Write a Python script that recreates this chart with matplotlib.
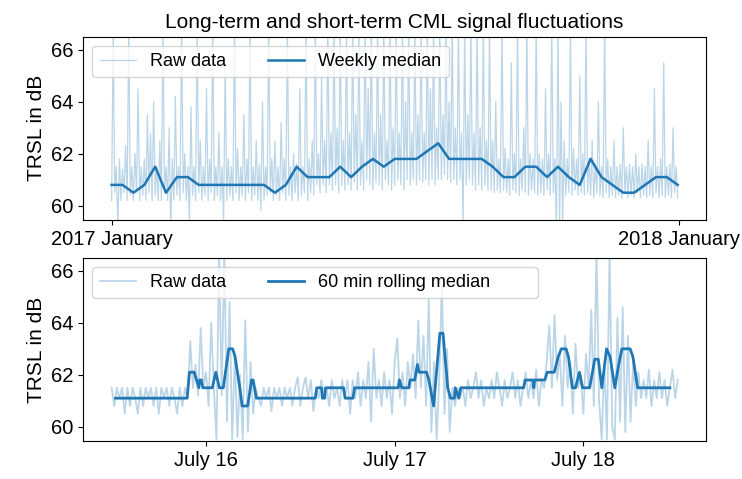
import matplotlib
matplotlib.use('Agg')
import matplotlib.pyplot as plt
import matplotlib.dates as mdates
import pandas as pd

plt.rcParams['font.family'] = ['Liberation Sans', 'DejaVu Sans']

# --- one year of raw TRSL, daily readings (dB), 2017 ---
raw_jan = [60.2, 66.8, 60.5, 61.5, 59.2, 61.8, 60.2, 61.4, 60.5, 62.3, 60.2, 67.0, 60.4, 61.5, 60.2, 62.0,
           60.5, 64.5, 60.2, 61.5, 60.4, 61.8, 60.2, 63.5, 60.5, 62.8, 60.2, 64.0, 60.4, 61.5, 60.2]
raw_feb = [62.5, 60.2, 67.0, 60.5, 61.5, 60.2, 63.0, 59.0, 61.8, 60.2, 64.2, 60.4, 61.5, 60.2, 67.0, 60.5,
           62.0, 60.2, 61.5, 59.3, 63.8, 60.4, 61.5, 60.2, 67.0, 60.5, 62.5, 60.2]
raw_mar = [61.5, 60.4, 64.5, 60.2, 61.8, 60.5, 67.0, 60.2, 61.5, 60.4, 62.8, 60.2, 61.5, 59.4, 65.5, 60.2,
           61.8, 60.4, 61.5, 60.2, 67.0, 60.5, 62.2, 60.2, 61.5, 60.4, 63.5, 60.2, 61.8, 60.5, 67.0]
raw_apr = [60.2, 61.5, 60.4, 62.5, 60.2, 61.6, 59.8, 64.0, 60.2, 61.5, 60.4, 67.0, 60.5, 61.8, 60.2, 62.5,
           60.4, 61.5, 60.2, 63.2, 60.5, 61.8, 60.2, 67.0, 60.4, 61.5, 60.2, 62.0, 60.5, 61.6]
raw_may = [60.2, 64.5, 60.4, 61.5, 60.5, 67.0, 60.2, 61.8, 60.5, 62.5, 60.4, 67.0, 60.8, 62.0, 60.5, 65.0,
           60.8, 62.5, 60.5, 67.0, 60.8, 62.8, 60.6, 67.0, 60.8, 63.0, 60.5, 67.0, 60.8, 62.5, 60.6]
raw_jun = [67.0, 60.8, 62.8, 60.6, 67.0, 60.9, 63.5, 60.6, 67.0, 60.8, 62.5, 60.6, 67.0, 61.0, 64.5, 60.8,
           67.0, 60.6, 62.8, 60.9, 67.0, 60.8, 63.5, 60.6, 67.0, 61.0, 62.5, 60.8, 67.0, 60.6]
raw_jul = [63.0, 60.8, 67.0, 61.0, 62.8, 60.8, 67.0, 60.6, 64.0, 61.0, 67.0, 60.8, 62.8, 61.0, 67.0, 60.8,
           63.5, 61.0, 67.0, 60.9, 62.8, 61.0, 67.0, 60.8, 64.5, 61.0, 67.0, 60.8, 63.0, 61.0, 67.0]
raw_aug = [61.0, 63.5, 61.2, 67.0, 61.0, 64.0, 60.9, 67.0, 61.0, 63.0, 60.8, 67.0, 61.0, 62.8, 59.2, 67.0,
           60.8, 63.5, 61.0, 67.0, 60.8, 62.8, 60.6, 67.0, 60.8, 63.0, 60.6, 67.0, 60.8, 62.5, 60.6]
raw_sep = [67.0, 60.6, 62.5, 60.5, 64.0, 60.6, 61.8, 60.5, 67.0, 60.6, 62.2, 60.5, 61.8, 60.4, 65.5, 60.6,
           62.0, 60.5, 67.0, 60.4, 61.8, 60.6, 63.0, 60.5, 67.0, 60.4, 62.0, 60.6, 61.8, 60.5]
raw_oct = [67.0, 60.4, 62.0, 60.5, 61.8, 60.4, 64.5, 60.6, 62.0, 60.4, 67.0, 60.5, 61.8, 59.0, 67.0, 59.0,
           64.0, 59.3, 62.5, 60.4, 61.8, 60.5, 67.0, 60.4, 62.2, 60.6, 61.8, 60.4, 65.0, 60.5, 62.0]
raw_nov = [60.4, 67.0, 60.5, 61.8, 60.4, 62.5, 60.3, 61.6, 60.5, 64.0, 60.4, 61.5, 60.3, 67.0, 60.5, 61.8,
           60.3, 61.5, 60.4, 62.5, 60.3, 61.5, 60.4, 61.6, 60.3, 63.0, 60.5, 61.5, 60.3, 61.6]
raw_dec = [60.4, 61.5, 60.3, 62.0, 60.5, 61.5, 60.3, 61.6, 60.4, 61.5, 60.3, 62.5, 60.4, 61.5, 60.3, 64.5,
           60.5, 61.5, 60.3, 61.8, 60.4, 65.5, 60.3, 61.5, 60.4, 61.6, 60.3, 63.0, 60.5, 61.5, 60.3]
raw_year = (raw_jan + raw_feb + raw_mar + raw_apr + raw_may + raw_jun +
            raw_jul + raw_aug + raw_sep + raw_oct + raw_nov + raw_dec)
raw_year_dates = pd.date_range('2017-01-01', periods=len(raw_year), freq='D')

weekly_median = [60.8, 60.8, 60.5, 60.8, 61.5, 60.5, 61.1, 61.1, 60.8, 60.8, 60.8, 60.8, 60.8, 60.8, 60.8,
                 60.5, 60.8, 61.5, 61.1, 61.1, 61.1, 61.5, 61.1, 61.5, 61.8, 61.5, 61.8, 61.8, 61.8, 62.1,
                 62.4, 61.8, 61.8, 61.8, 61.8, 61.5, 61.1, 61.1, 61.5, 61.5, 61.1, 61.5, 61.1, 60.8, 61.8,
                 61.1, 60.8, 60.5, 60.5, 60.8, 61.1, 61.1, 60.8]
weekly_dates = pd.date_range('2017-01-01', periods=len(weekly_median), freq='7D')

# --- three days of raw TRSL, 20 min readings from 15 July 12:00 ---
raw_july = [61.5, 60.8, 61.5, 61.1, 61.5, 60.5, 61.5, 60.8, 61.5, 61.1, 60.5, 61.5, 60.8, 61.5, 61.1,
            61.5, 60.8, 61.5, 60.5, 61.5, 61.1, 61.5, 60.8, 61.5, 61.1, 60.5, 61.5, 60.8, 61.5, 61.1,
            63.3, 61.5, 62.4, 61.2, 63.8, 61.5, 62.1, 60.8, 64.0, 61.5, 59.5, 66.8, 61.2, 66.8, 60.2,
            64.8, 59.5, 62.8, 59.6, 62.0, 59.5, 64.1, 59.8, 62.5, 60.5,
            61.5, 61.1, 60.8, 61.5, 61.1, 61.5, 60.6, 61.5, 61.1, 61.5, 60.8, 61.5, 61.1, 61.5, 60.8,
            61.5, 61.9, 60.8, 61.5, 61.9, 61.1, 61.8, 60.6, 61.5,
            61.1, 61.8, 61.1, 61.5, 60.8, 61.8, 61.1, 61.5, 60.8, 61.8, 61.1, 61.8, 60.5, 61.8, 61.1,
            62.1, 60.8, 61.8, 61.1, 62.5, 60.2, 63.0, 61.1, 61.8, 60.8, 62.1, 61.1, 61.8, 60.5, 62.5,
            63.4, 61.1, 62.1, 60.8, 62.5,
            61.5, 62.8, 61.1, 64.1, 61.5, 63.5, 60.8, 64.9, 59.8, 62.5, 59.5, 61.8, 65.5, 60.5, 63.0,
            59.8, 61.5, 60.8, 61.5,
            61.1, 61.5, 60.8, 61.8, 61.1, 61.5, 62.1, 61.1, 61.8, 60.8, 61.5, 61.1, 61.8, 61.1, 62.1,
            61.5, 60.8, 61.8, 61.1, 61.5, 62.1, 61.1, 61.8, 60.8, 61.5, 62.1, 61.1, 61.8, 61.1, 62.2,
            60.8, 61.8, 61.5,
            62.5, 63.9, 61.5, 64.3, 61.8, 62.8, 60.8, 63.5, 61.5, 62.5, 60.5, 63.2, 61.5, 62.0, 60.5,
            62.8, 61.5, 64.5, 60.8, 66.8, 61.0, 59.5, 62.5, 59.5, 66.8, 60.0, 59.5, 64.2, 60.2, 64.6,
            59.8, 63.5, 60.2, 62.5, 60.8, 62.1,
            61.1, 61.8, 61.1, 62.2, 60.8, 61.8, 61.1, 62.1, 61.1, 61.8, 60.8, 61.5, 62.2, 61.1, 61.8]
raw_july_times = pd.date_range('2017-07-15 12:00', periods=len(raw_july), freq='20min')

# 60 min rolling median, hours after 15 July 12:00
median_hours = [0.5, 9.6, 9.9, 10.5, 10.8, 11.1, 11.2, 11.4, 11.6, 12.8, 13.25, 13.7, 14.2, 14.9, 15.4,
                15.7, 16.3, 16.6, 17.3, 17.8, 18.0, 18.4, 25.9, 26.1, 26.7, 26.8, 27.1, 27.2, 29.5,
                29.7, 30.7, 30.9, 36.45, 36.6, 36.9, 37.8, 37.95, 38.55, 38.9, 39.1, 40.05, 40.35,
                40.95, 41.75, 42.15, 42.75, 43.1, 43.6, 43.7, 44.15, 44.4, 52.4, 52.6, 53.6, 53.7,
                53.8, 55.1, 55.4, 56.3, 56.8, 57.2, 57.8, 58.1, 58.6, 59.0, 59.5, 59.9, 60.8, 61.45,
                61.9, 62.35, 62.95, 63.4, 64.0, 64.5, 64.9, 65.95, 66.3, 66.9, 71.0]
median_values = [61.1, 61.1, 62.1, 62.1, 61.8, 61.5, 61.8, 61.8, 61.5, 61.5, 62.1, 61.5, 61.5, 63.0, 63.0,
                 62.7, 61.5, 60.8, 60.8, 61.8, 61.8, 61.1, 61.1, 61.5, 61.5, 61.1, 61.1, 61.5, 61.5,
                 61.1, 61.1, 61.5, 61.5, 61.8, 61.5, 61.5, 61.8, 61.8, 62.4, 62.1, 62.1, 61.8,
                 60.8, 63.6, 63.6, 61.5, 61.1, 61.1, 61.5, 61.1, 61.5, 61.5, 61.8, 61.8, 61.5,
                 61.8, 61.8, 62.1, 62.1, 62.7, 63.0, 63.0, 62.7, 61.5, 61.5, 62.1, 61.5, 61.5, 62.6,
                 62.6, 61.5, 63.0, 62.7, 61.5, 62.4, 63.0, 63.0, 62.7, 61.5, 61.5]
median_times = pd.Timestamp('2017-07-15 12:00') + pd.to_timedelta(median_hours, unit='h')

fig = plt.figure(figsize=(7.42, 4.79), dpi=100)
ax1 = fig.add_axes([0.1123, 0.5407, 0.8392, 0.3827])
ax2 = fig.add_axes([0.1123, 0.0793, 0.8392, 0.3821])

ax1.plot(raw_year_dates, raw_year, color='C0', alpha=0.3, lw=0.9, label='Raw data')
ax1.plot(weekly_dates, weekly_median, color='C0', lw=1.8, label='Weekly median')
ax1.set_title('Long-term and short-term CML signal fluctuations', fontsize=15)
ax1.xaxis.set_major_locator(mdates.YearLocator())
ax1.xaxis.set_major_formatter(mdates.DateFormatter('%Y %B'))

ax2.plot(raw_july_times, raw_july, color='C0', alpha=0.3, lw=1.3, label='Raw data')
ax2.plot(median_times, median_values, color='C0', lw=2.0, label='60 min rolling median' + ' ' * 8)
ax2.xaxis.set_major_locator(mdates.DayLocator())
ax2.xaxis.set_major_formatter(mdates.DateFormatter('%B %d'))

for ax in (ax1, ax2):
    ax.set_ylim(59.45, 66.5)
    ax.set_yticks([60, 62, 64, 66])
    ax.set_ylabel('TRSL in dB', fontsize=15)
    ax.tick_params(labelsize=14.5)
    ax.legend(loc='upper left', ncol=2, fontsize=13, columnspacing=2.3)

fig.savefig('out.png', dpi=100)
